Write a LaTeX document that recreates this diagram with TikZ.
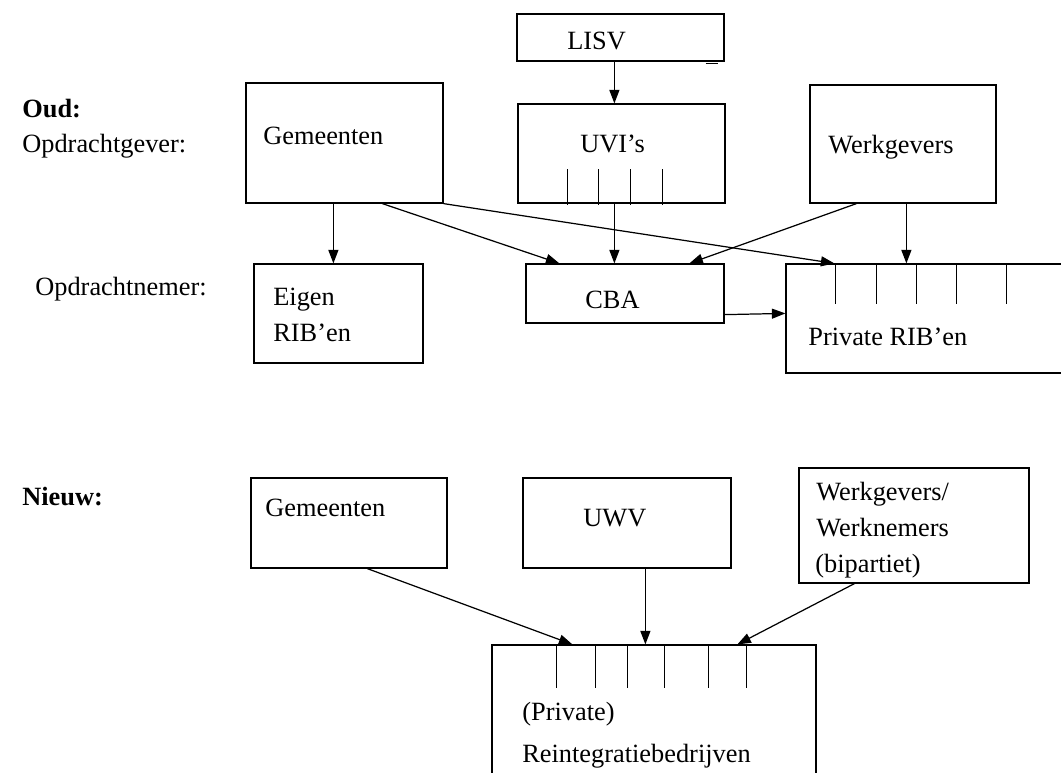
\documentclass[tikz,border=0pt]{standalone}
\usepackage{fontspec}
\setmainfont{Liberation Serif}
\usetikzlibrary{arrows.meta, calc, fit}
\tikzset{
  box/.style={rectangle, draw=black, inner sep=0pt, line width=0.7pt},
  txt/.style={anchor=base west, inner sep=0pt, font=\fontsize{15}{18}\selectfont},
  hdr/.style={anchor=base west, inner sep=0pt, font=\fontsize{15}{18}\selectfont\bfseries},
  arr/.style={-{Triangle[length=0.27cm, width=0.2cm]}, line width=0.7pt},
  tick/.style={line width=0.7pt}
}
\begin{document}
\begin{tikzpicture}[x=0.02cm, y=-0.02cm]
  \useasboundingbox (0,0) rectangle (1061,772);
  \clip (0,0) rectangle (1061,772);

  % side labels
  \node[hdr] (oud) at (22,117) {Oud:};
  \node[txt] (opg) at (22,152) {Opdrachtgever:};
  \node[txt] (opn) at (35,295) {Opdrachtnemer:};
  \node[hdr] (nieuw) at (22,505) {Nieuw:};

  % old situation, clients
  \node[box, fit={(517,14) (724,61)}] (lisv) {};
  \node[txt] (lisvt) at (567,49) {LISV};
  \draw[tick] (lisv.south east) ++(-19,2) -- ++(12,0);

  \node[box, fit={(246,83) (443,203)}] (gem1) {};
  \node[txt] (gem1t) at (263,144) {Gemeenten};

  \node[box, fit={(518,104) (725,203)}] (uvi) {};
  \node[txt] (uvit) at (580,152) {UVI’s};
  \foreach \d in {50,81,113,145}
    \draw[tick] ($(uvi.south west)+(\d,1)$) -- ++(0,-36);

  \node[box, fit={(810,85) (996,203)}] (werk1) {};
  \node[txt] (werk1t) at (828,153) {Werkgevers};

  % old situation, contractors
  \node[box, fit={(254,264) (423,363)}] (eig) {};
  \node[txt] (eigt1) at (273,305) {Eigen};
  \node[txt] (eigt2) at (273,341) {RIB’en};

  \node[box, fit={(526,264) (724,323)}] (cba) {};
  \node[txt] (cbat) at (585,308) {CBA};

  \node[box, fit={(786,264) (1075,373)}] (priv) {};
  \node[txt] (privt) at (808,345) {Private RIB’en};
  \foreach \d in {50,91,131,171,221}
    \draw[tick] ($(priv.north west)+(\d,0)$) -- ++(0,41);

  % old connections
  \draw[arr] ($(lisv.south west)+(98,0)$) -- ($(uvi.north west)+(97,0)$);
  \draw[arr] ($(gem1.south west)+(88,0)$) -- ($(eig.north west)+(80,0)$);
  \draw[arr] ($(gem1.south west)+(137,0)$) -- ($(cba.north west)+(34,0)$);
  \draw[arr] (gem1.south east) -- ($(priv.north west)+(49,0)$);
  \draw[arr] ($(uvi.south west)+(97,0)$) -- ($(cba.north west)+(89,0)$);
  \draw[arr] ($(werk1.south west)+(47,0)$) -- ($(cba.north west)+(164,0)$);
  \draw[arr] ($(werk1.south west)+(97,0)$) -- ($(priv.north west)+(121,0)$);
  \draw[arr] ($(cba.south east)+(0,-9)$) -- ($(priv.north west)+(0,50)$);

  % new situation
  \node[box, fit={(251,478) (447,568)}] (gem2) {};
  \node[txt] (gem2t) at (265,516) {Gemeenten};

  \node[box, fit={(523,478) (731,568)}] (uwv) {};
  \node[txt] (uwvt) at (583,526) {UWV};

  \node[box, fit={(799,468) (1029,583)}] (werk2) {};
  \node[txt] (werk2t1) at (816,500) {Werkgevers/};
  \node[txt] (werk2t2) at (816,536) {Werknemers};
  \node[txt] (werk2t3) at (815,572) {(bipartiet)};

  \node[box, fit={(492,645) (816,800)}] (reint) {};
  \node[txt] (reintt1) at (522,720) {(Private)};
  \node[txt] (reintt2) at (522,762) {Reintegratiebedrijven};
  \foreach \d in {65,104,136,173,217,255}
    \draw[tick] ($(reint.north west)+(\d,0)$) -- ++(0,44);

  % new connections
  \draw[arr] ($(gem2.south west)+(117,0)$) -- ($(reint.north west)+(81,0)$);
  \draw[arr] ($(uwv.south west)+(123,0)$) -- ($(reint.north west)+(154,0)$);
  \draw[arr] ($(werk2.south west)+(56,0)$) -- ($(reint.north west)+(246,0)$);
\end{tikzpicture}
\end{document}
